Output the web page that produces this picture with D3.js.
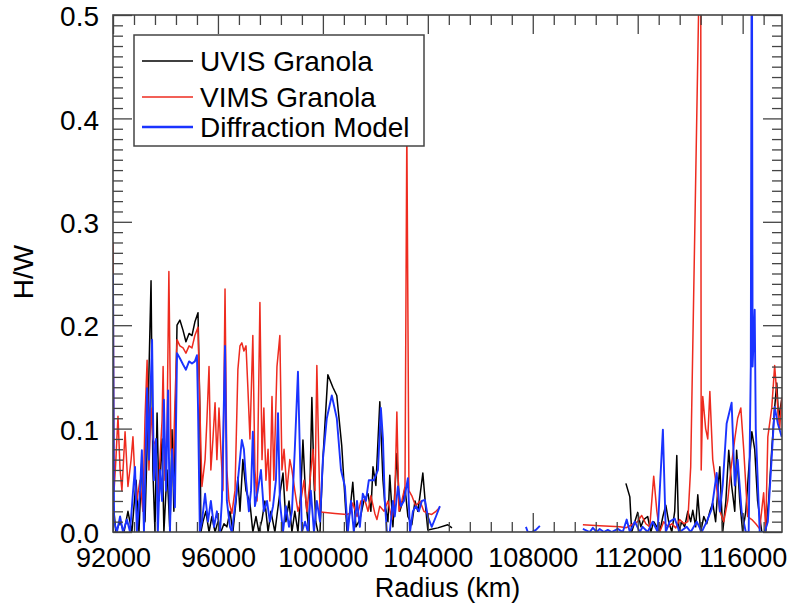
<!DOCTYPE html>
<html>
<head>
<meta charset="utf-8">
<script src="https://cdn.jsdelivr.net/npm/d3@7"></script>
<style>
  body { margin: 0; background: #fff; }
  svg text { font-family: "Liberation Sans", Arial, Helvetica, sans-serif; fill: #000; }
</style>
</head>
<body>
<svg id="chart" width="795" height="610"></svg>
<script>
// H/W vs radius, three series

var xTicks = [92000, 96000, 100000, 104000, 108000, 112000, 116000];
var yTicks = [0.0, 0.1, 0.2, 0.3, 0.4, 0.5];
var seriesNames = ["UVIS Granola", "VIMS Granola", "Diffraction Model"];
var colors = ["#000000", "#ee2b1f", "#1a33ff"];

// UVIS Granola (black); null = gap in the line
var uvisR = [92000,92110,92270,92420,92570,92720,92880,92990,93100,93220,
  93330,93450,93520,93600,93680,93750,93870,93940,94060,94170,
  94250,94320,94440,94550,94670,94780,94900,95010,95120,95240,
  95310,95350,95430,95540,95660,95770,95890,96000,96110,96230,
  96340,96460,96570,96690,96760,96840,96950,97070,97220,97330,
  97450,97560,97680,97790,97910,98020,98170,98320,98480,98590,
  98710,98820,98930,99050,99160,99240,99350,99470,99580,99660,
  99730,99810,99890,100000,100190,100380,100530,100720,100920,101030,
  101140,101260,101410,101560,101720,101830,101910,102020,102170,102290,
  102360,102480,102550,102670,102820,102930,103050,103130,103240,103390,
  103510,103620,103700,103810,103930,104000,104380,104760,104920,
  108000,
  111550,111700,111770,111890,112000,112120,112230,112380,112500,112610,
  112730,112840,112960,113070,113180,113300,113410,113490,113560,113680,
  113790,113910,114020,114100,114210,114290,114400,114520,114630,114750,
  114860,114970,115050,115130,115240,115360,115470,115580,115700,115770,
  115890,116000,116120,116230,116350,116460,116570,116730,116880,116990,
  117110,117220,117300,117370,117490];
var uvisHW = [0.03,0.0,0.01,0.0,0.02,0.0,0.05,0.0,0.07,0.01,
  0.11,0.243,0.06,0.0,0.115,0.03,0.09,0.0,0.06,0.0,
  0.099,0.02,0.20,0.205,0.195,0.184,0.192,0.19,0.203,0.212,
  0.12,0.0,0.01,0.02,0.0,0.015,0.0,0.01,0.0,0.008,
  0.005,0.02,0.0,0.03,0.053,0.02,0.07,0.04,0.028,0.0,
  0.015,0.0,0.012,0.03,0.0,0.02,0.0,0.03,0.057,0.01,
  0.03,0.0,0.02,0.0,0.04,0.089,0.03,0.0,0.13,0.05,
  0.01,0.0,0.0,0.07,0.152,0.14,0.132,0.083,0.0,0.02,
  0.048,0.005,0.012,0.03,0.037,0.02,0.063,0.045,0.126,0.05,
  0.028,0.01,0.055,0.005,0.076,0.02,0.03,0.043,0.015,0.007,
  0.03,0.02,0.035,0.057,0.02,0.002,0.004,0.007,0.004,
  null,
  0.047,0.034,0.0,0.01,0.019,0.005,0.012,0.015,0.0,0.01,
  0.005,0.0,0.015,0.026,0.01,0.0,0.02,0.074,0.0,0.01,
  0.005,0.02,0.01,0.021,0.005,0.036,0.0,0.015,0.008,0.02,
  0.028,0.01,0.04,0.063,0.0,0.03,0.079,0.045,0.02,0.079,
  0.03,0.0,0.02,0.06,0.097,0.08,0.03,0.0,0.0,0.03,
  0.08,0.12,0.144,0.11,0.128];

// VIMS Granola (red)
var vimsR = [92000,92040,92110,92190,92270,92340,92460,92570,92690,92760,
  92840,92910,93030,93140,93220,93300,93370,93450,93520,93600,
  93710,93790,93870,93910,93980,94060,94130,94210,94290,94360,
  94440,94550,94670,94780,94900,95010,95120,95240,95310,95390,
  95510,95580,95660,95730,95810,95890,95960,96040,96110,96190,
  96270,96340,96420,96530,96650,96760,96840,96910,96990,97070,
  97140,97220,97330,97410,97490,97600,97680,97750,97830,97910,
  97980,98060,98130,98250,98360,98440,98520,98630,98740,98820,
  98930,99050,99160,99280,99390,99510,99620,99700,99770,99890,
  100000,100460,100920,101030,101140,101300,101450,101600,101720,101830,
  101980,102060,102170,102330,102480,102630,102740,102820,102900,103010,
  103130,103200,103280,103390,103540,103700,103850,104000,104150,104310,
  104460,
  107000,
  109910,110550,111320,111550,111770,112000,112150,112310,112460,112610,
  112730,112840,112990,113150,113300,113450,113600,113760,113910,114020,
  114400,114420,114480,114590,114670,114750,114860,114970,115130,115280,
  115430,115550,115700,115810,115930,116040,116190,116350,116500,116650,
  116800,116880,116960,117110,117220,117340,117410,117490];
var vimsHW = [0.28,0.04,0.07,0.112,0.06,0.04,0.097,0.044,0.07,0.092,
  0.05,0.031,0.05,0.02,0.11,0.166,0.06,0.12,0.09,0.085,
  0.03,0.07,0.108,0.16,0.05,0.10,0.252,0.08,0.06,0.125,
  0.186,0.18,0.178,0.173,0.18,0.178,0.19,0.198,0.121,0.044,
  0.07,0.108,0.16,0.06,0.09,0.125,0.07,0.12,0.08,0.04,
  0.235,0.06,0.03,0.018,0.04,0.157,0.18,0.183,0.175,0.18,
  0.14,0.09,0.19,0.06,0.03,0.222,0.07,0.12,0.05,0.08,
  0.03,0.131,0.05,0.16,0.19,0.06,0.08,0.04,0.07,0.06,
  0.04,0.02,0.03,0.05,0.02,0.05,0.08,0.04,0.161,0.02,
  0.019,0.018,0.017,0.018,0.028,0.015,0.03,0.031,0.02,0.035,
  0.018,0.012,0.025,0.02,0.03,0.012,0.03,0.116,0.02,0.03,
  0.044,0.39,0.04,0.035,0.025,0.03,0.02,0.018,0.017,0.02,
  0.024,
  null,
  0.007,0.006,0.005,0.004,0.007,0.01,0.016,0.008,0.005,0.054,
  0.02,0.0,0.01,0.005,0.008,0.004,0.012,0.008,0.01,0.063,
  0.62,0.06,0.131,0.10,0.09,0.136,0.07,0.05,0.02,0.01,
  0.03,0.06,0.09,0.11,0.12,0.08,0.015,0.012,0.008,0.003,
  0.038,0.003,0.092,0.12,0.161,0.12,0.099,0.13];

// Diffraction Model (blue)
var diffR = [92000,92040,92150,92270,92380,92530,92650,92760,92840,92910,
  93030,93100,93180,93300,93370,93410,93490,93560,93640,93710,
  93790,93870,93940,94020,94100,94170,94250,94360,94440,94550,
  94670,94780,94900,95010,95120,95200,95240,95310,95390,95510,
  95620,95730,95850,95960,96080,96150,96270,96340,96460,96530,
  96650,96760,96910,96990,97070,97180,97260,97330,97410,97520,
  97640,97750,97870,97980,98100,98210,98290,98360,98480,98590,
  98710,98820,98930,99050,99120,99200,99320,99430,99540,99660,
  99770,99890,100000,100150,100340,100530,100690,100840,100950,101070,
  101180,101300,101410,101520,101640,101750,101940,102100,102210,102290,
  102360,102440,102550,102670,102740,102860,102970,103090,103240,103320,
  103430,103540,103660,103770,103890,104000,104150,104310,104460,
  106000,
  107740,107810,107960,108120,108270,
  109000,
  109910,110170,110290,110440,110550,110710,110860,111010,111240,111430,
  111580,111700,111890,112080,112190,112380,112570,112760,112960,113070,
  113220,113410,113600,113870,114020,114250,114440,114630,114820,115010,
  115130,115240,115390,115580,115700,115810,115960,116120,116230,116310,
  116350,116380,116460,116500,116540,116650,116840,116960,117110,117220,
  117340,117490];
var diffHW = [0.25,0.01,0.0,0.015,0.0,0.012,0.0,0.038,0.063,0.0,
  0.04,0.079,0.0,0.139,0.07,0.12,0.186,0.05,0.09,0.0,
  0.06,0.03,0.128,0.04,0.137,0.0,0.08,0.024,0.173,0.168,
  0.162,0.157,0.165,0.163,0.165,0.171,0.121,0.0,0.01,0.037,
  0.01,0.03,0.005,0.02,0.0,0.03,0.18,0.03,0.005,0.0,
  0.025,0.05,0.089,0.08,0.05,0.02,0.04,0.097,0.025,0.04,
  0.06,0.02,0.03,0.01,0.025,0.05,0.115,0.03,0.0,0.025,
  0.005,0.02,0.08,0.155,0.08,0.0,0.01,0.0,0.04,0.0,
  0.03,0.01,0.07,0.11,0.132,0.11,0.06,0.044,0.0,0.03,
  0.0,0.03,0.005,0.037,0.03,0.05,0.05,0.06,0.12,0.09,
  0.03,0.0,0.0,0.03,0.015,0.044,0.025,0.03,0.052,0.0,
  0.02,0.025,0.02,0.03,0.031,0.015,0.005,0.015,0.025,
  null,
  0.005,0.0,0.0,0.002,0.006,
  null,
  0.003,0.0,0.004,0.0,0.003,0.0,0.002,0.0,0.003,0.0,
  0.012,0.0,0.01,0.0,0.005,0.0,0.01,0.0,0.099,0.0,
  0.01,0.013,0.0,0.005,0.0,0.01,0.0,0.01,0.022,0.057,
  0.02,0.045,0.105,0.125,0.045,0.07,0.02,0.0,0.0,0.16,
  0.65,0.16,0.215,0.1,0.073,0.0,0.0,0.01,0.073,0.121,
  0.105,0.092];

var series = [
  {name: seriesNames[0], r: uvisR, v: uvisHW, color: colors[0], w: 1.5},
  {name: seriesNames[1], r: vimsR, v: vimsHW, color: colors[1], w: 1.5},
  {name: seriesNames[2], r: diffR, v: diffHW, color: colors[2], w: 1.9}
];

// plot box (note: "top" is taken by window.top, so prefixed names)
var plotL = 113, plotR = 782, plotT = 15, plotB = 532;

var svg = d3.select("#chart");

var x = d3.scaleLinear().domain([92000, 117500]).range([plotL, plotR]);
var y = d3.scaleLinear().domain([0, 0.5]).range([plotB, plotT]);

svg.append("clipPath").attr("id", "plotclip")
  .append("rect")
  .attr("x", plotL).attr("y", plotT)
  .attr("width", plotR - plotL).attr("height", plotB - plotT);

// data lines
var line = d3.line()
  .defined(function(d) { return d[1] != null; })
  .x(function(d) { return x(d[0]); })
  .y(function(d) { return y(d[1]); });

var plot = svg.append("g").attr("clip-path", "url(#plotclip)");
series.forEach(function(s) {
  var pts = s.r.map(function(r, i) { return [r, s.v[i]]; });
  plot.append("path")
    .datum(pts)
    .attr("d", line)
    .attr("fill", "none")
    .attr("stroke", s.color)
    .attr("stroke-width", s.w)
    .attr("stroke-linejoin", "round");
});

// axes, ticks pointing inward on all four sides
var minorX = d3.range(92000, 117500, 800).filter(function(d) { return (d - 92000) % 4000 != 0; });
var minorY = d3.range(0, 51).map(function(d) { return d / 100; }).filter(function(d, i) { return i % 10 != 0; });
var axisColor = "#444";

function styleAxis(g) {
  g.select(".domain").remove();
  g.selectAll("line").attr("stroke", axisColor).attr("stroke-width", 1.3);
}

svg.append("g").attr("transform", "translate(0," + plotB + ")")
  .call(d3.axisBottom(x).tickValues(xTicks).tickSize(-19).tickPadding(16).tickFormat(d3.format("d")))
  .call(styleAxis)
  .selectAll("text").style("font-size", "27px").attr("dy", "0.7em");
svg.append("g").attr("transform", "translate(0," + plotB + ")")
  .call(d3.axisBottom(x).tickValues(minorX).tickSize(-10).tickFormat(""))
  .call(styleAxis);
svg.append("g").attr("transform", "translate(0," + plotT + ")")
  .call(d3.axisTop(x).tickValues(xTicks).tickSize(-19).tickFormat(""))
  .call(styleAxis);
svg.append("g").attr("transform", "translate(0," + plotT + ")")
  .call(d3.axisTop(x).tickValues(minorX).tickSize(-10).tickFormat(""))
  .call(styleAxis);

svg.append("g").attr("transform", "translate(" + plotL + ",0)")
  .call(d3.axisLeft(y).tickValues(yTicks).tickSize(-19).tickPadding(14).tickFormat(d3.format(".1f")))
  .call(styleAxis)
  .selectAll("text").style("font-size", "28px").attr("dy", "0.38em");
svg.append("g").attr("transform", "translate(" + plotL + ",0)")
  .call(d3.axisLeft(y).tickValues(minorY).tickSize(-10).tickFormat(""))
  .call(styleAxis);
svg.append("g").attr("transform", "translate(" + plotR + ",0)")
  .call(d3.axisRight(y).tickValues(yTicks).tickSize(-19).tickFormat(""))
  .call(styleAxis);
svg.append("g").attr("transform", "translate(" + plotR + ",0)")
  .call(d3.axisRight(y).tickValues(minorY).tickSize(-10).tickFormat(""))
  .call(styleAxis);

// frame
svg.append("rect")
  .attr("x", plotL).attr("y", plotT)
  .attr("width", plotR - plotL).attr("height", plotB - plotT)
  .attr("fill", "none").attr("stroke", axisColor).attr("stroke-width", 1.6);

// axis titles
svg.append("text")
  .attr("x", (plotL + plotR) / 2).attr("y", 597)
  .attr("text-anchor", "middle")
  .style("font-size", "27px")
  .text("Radius (km)");
svg.append("text")
  .attr("transform", "translate(33,272) rotate(-90)")
  .attr("text-anchor", "middle")
  .style("font-size", "28px")
  .text("H/W");

// legend
var legend = svg.append("g");
legend.append("rect")
  .attr("x", 134).attr("y", 35).attr("width", 290).attr("height", 111)
  .attr("fill", "#fff").attr("stroke", axisColor).attr("stroke-width", 1.5);
var rowY = [61, 97, 127];
series.forEach(function(s, i) {
  legend.append("line")
    .attr("x1", 142).attr("x2", 193)
    .attr("y1", rowY[i]).attr("y2", rowY[i])
    .attr("stroke", s.color).attr("stroke-width", i == 2 ? 2.4 : 1.4);
  legend.append("text")
    .attr("x", 200).attr("y", rowY[i] + 10)
    .style("font-size", "28px")
    .text(s.name);
});
</script>
</body>
</html>
